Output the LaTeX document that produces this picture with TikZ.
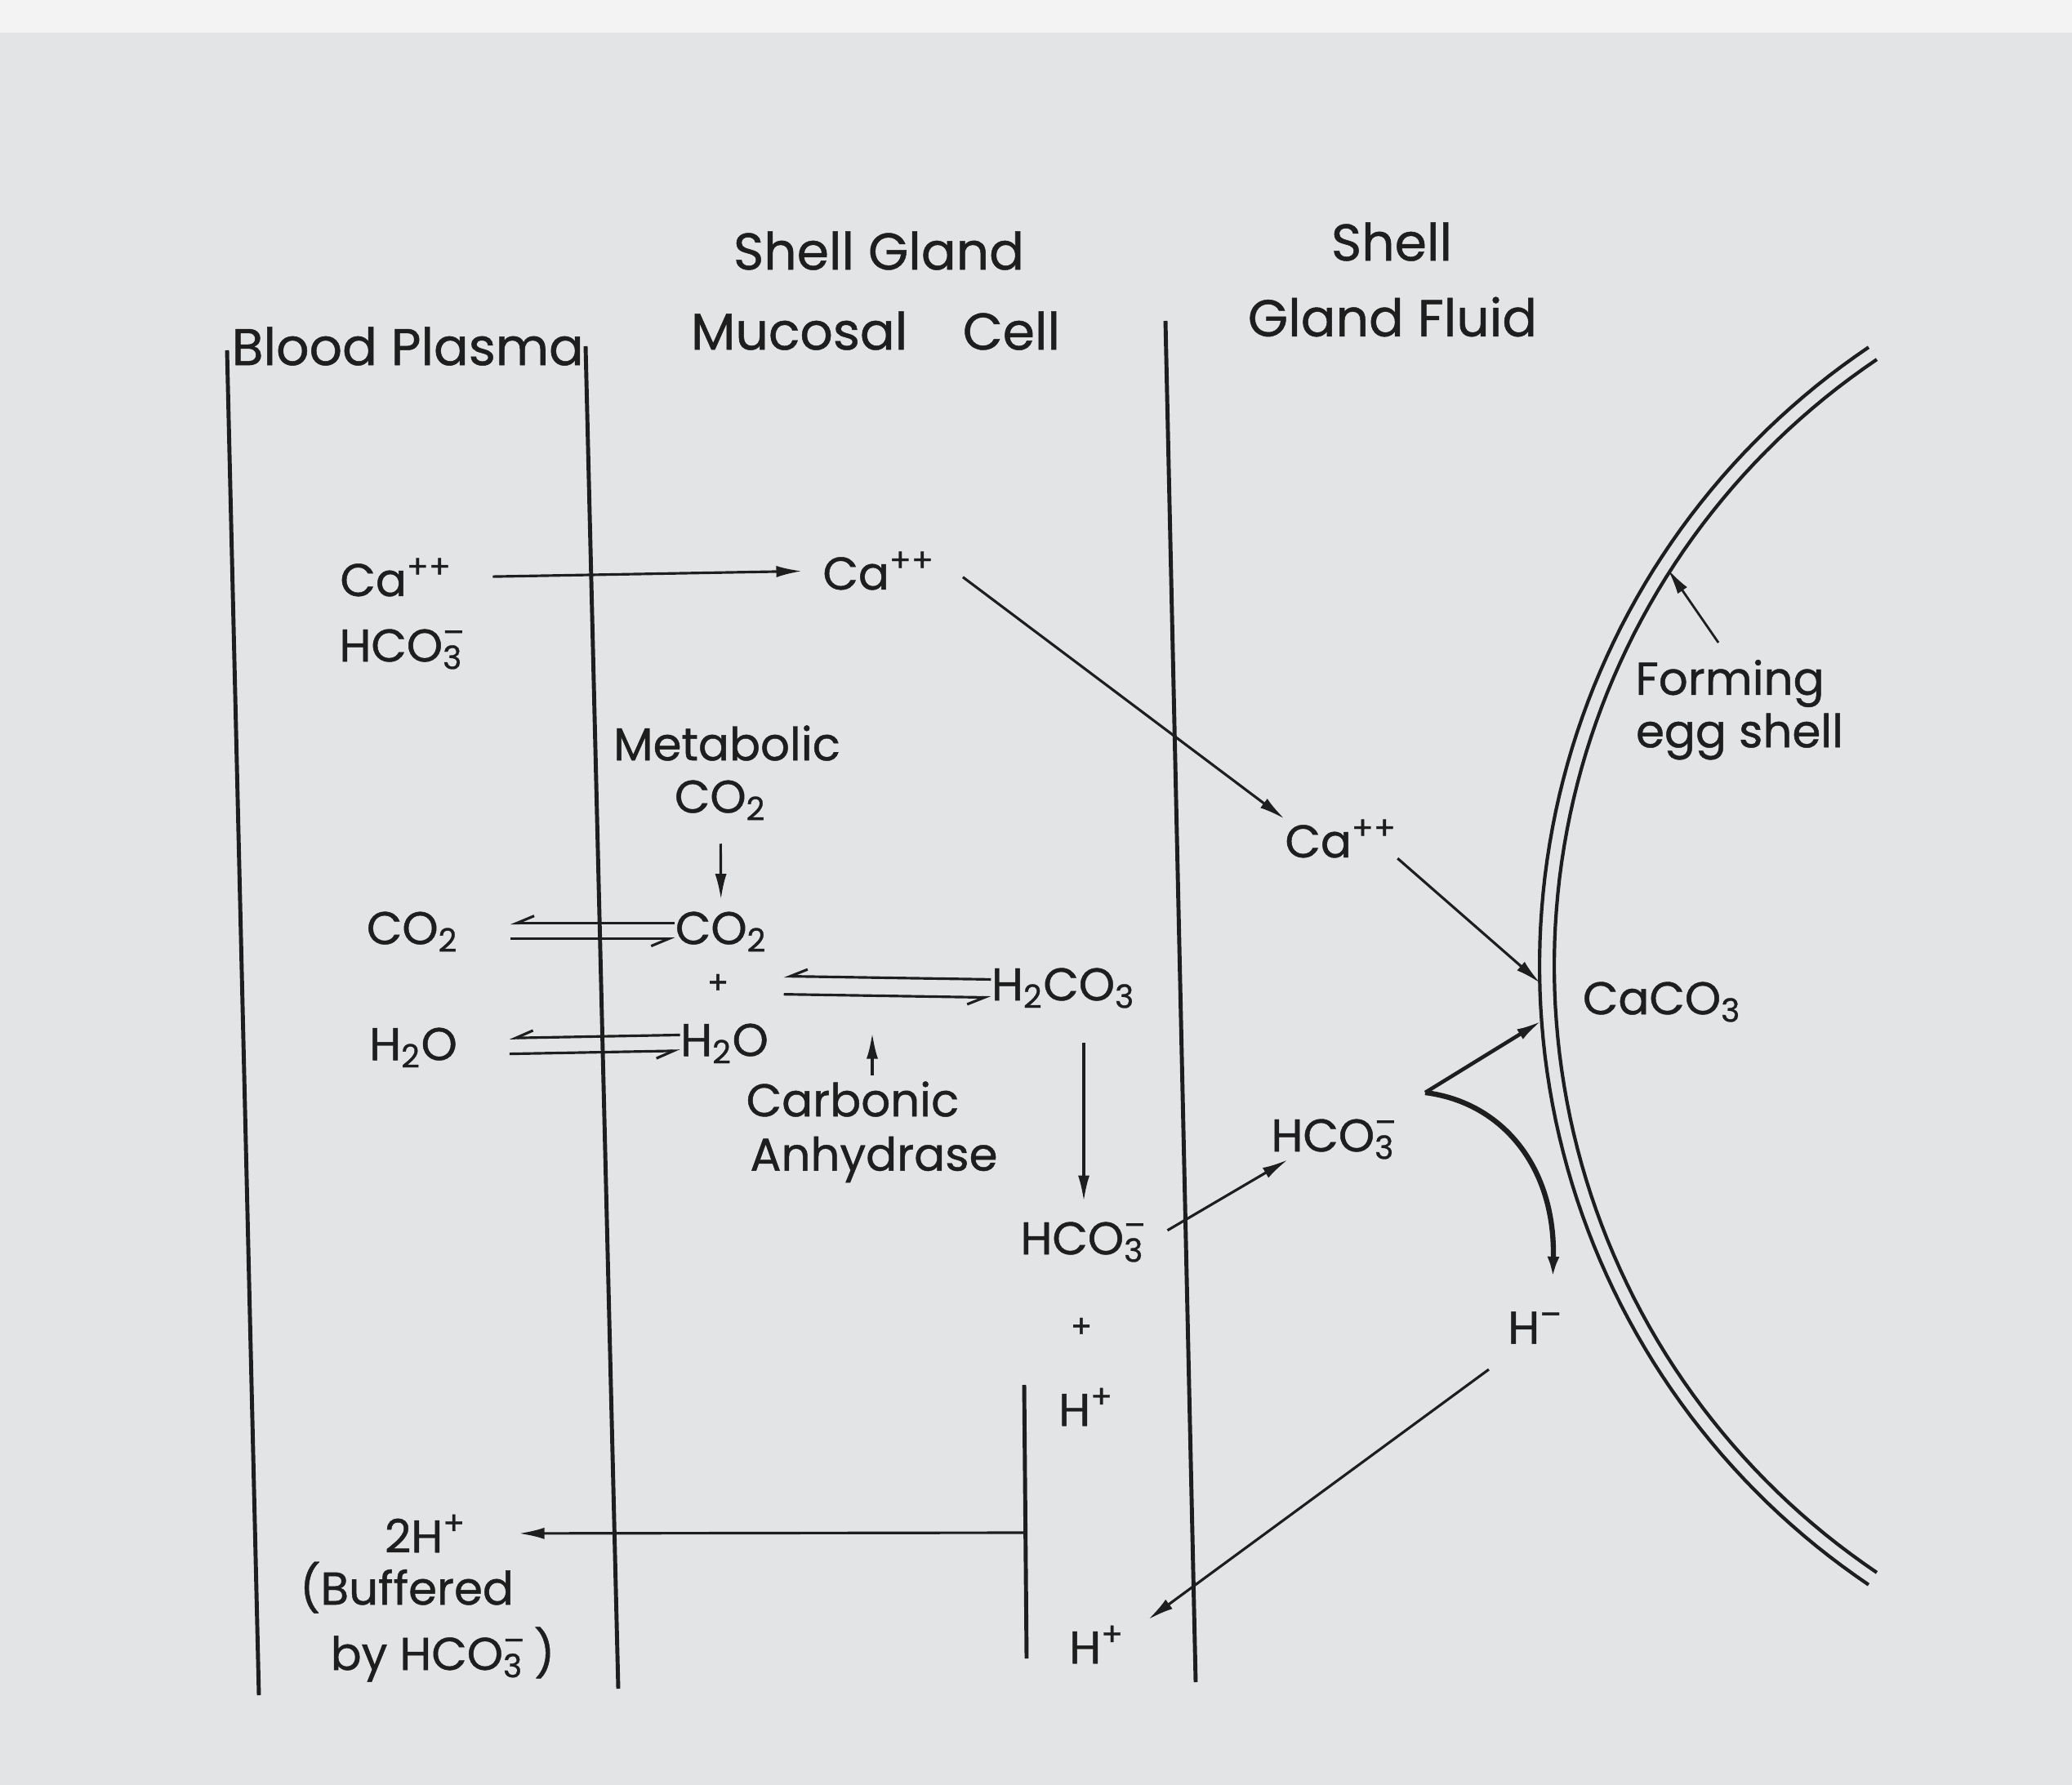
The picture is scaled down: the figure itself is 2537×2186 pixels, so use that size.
\documentclass[tikz,border=0pt]{standalone}
\usepackage{fontspec}
\setmainfont{Poppins}[UprightFeatures={FakeBold=0.8}]
\usetikzlibrary{positioning,arrows.meta}
\definecolor{paper}{RGB}{227,228,230}
\definecolor{paperedge}{RGB}{243,243,244}
\definecolor{ink}{RGB}{30,30,30}
\newcommand{\chsub}[1]{\textsubscript{#1}}
\newcommand{\chion}[2]{\rlap{\textsubscript{#1}}\textsuperscript{#2}}

\begin{document}
\begin{tikzpicture}[
        x=0.01cm, y=-0.01cm,
        head/.style={font=\fontsize{18}{21}\selectfont, text=ink, inner sep=0pt},
        chem/.style={font=\fontsize{16}{19}\selectfont, text=ink, inner sep=0pt},
        small/.style={font=\fontsize{11}{13}\selectfont, text=ink, inner sep=0pt},
        wall/.style={draw=ink, line width=1.4pt},
        shellline/.style={draw=ink, line width=1.2pt},
        flow/.style={draw=ink, line width=0.9pt, -{Latex[length=9pt,width=4pt]}},
        eq/.style={draw=ink, line width=0.9pt, -{Straight Barb[harpoon,swap,length=6pt,width=5pt]}}
    ]
    \fill[paper] (0,0) rectangle (2537,2186);
    \fill[paperedge] (0,0) rectangle (2537,40);
    \useasboundingbox (0,0) rectangle (2537,2186);

    % compartment walls
    \draw[wall] (278,429) -- (317,2076);
    \draw[wall] (717,424) -- (757,2068);
    \draw[wall] (1427,393) -- (1464,2060);
    \draw[wall] (1254,1696) -- (1257,2031);

    % forming egg shell
    \draw[shellline] plot[domain=124:236, samples=90] ({2799+914*cos(\x)}, {1183+914*sin(\x)});
    \draw[shellline] plot[domain=124:236, samples=90] ({2799+896*cos(\x)}, {1183+896*sin(\x)});

    % headings
    \node[head, anchor=west] (plasma) at (283,424) {Blood Plasma};
    \node[head] (gland) at (1076,307) {Shell Gland};
    \node[head] (mucosal) at (1072,405) {Mucosal\hspace{0.8em} Cell};
    \node[head] (shell) at (1704,296) {Shell};
    \node[head] (fluid) at (1705,388) {Gland Fluid};

    % species
    \node[chem] (caL) at (485,707) {Ca\textsuperscript{++}};
    \node[chem] (hcoL) at (493,795) {HCO\chion{3}{--}};
    \node[chem] (caM) at (1076,699) {Ca\textsuperscript{++}};
    \node[chem] (caR) at (1642,1027) {Ca\textsuperscript{++}};
    \node[chem] (metab) at (890,910) {Metabolic};
    \node[chem] (co2met) at (882,980) {CO\chsub{2}};
    \node[chem] (co2L) at (505,1141) {CO\chsub{2}};
    \node[chem] (co2M) at (883,1141) {CO\chsub{2}};
    \node[small] (plusA) at (879,1205) {+};
    \node[chem] (h2oL) at (506,1283) {H\chsub{2}O};
    \node[chem] (h2oM) at (887,1278) {H\chsub{2}O};
    \node[chem] (h2co3) at (1302,1210) {H\chsub{2}CO\chsub{3}};
    \node[chem] (carbonic) at (1044,1346) {Carbonic};
    \node[chem] (anhyd) at (1070,1420) {Anhydrase};
    \node[chem] (hcoM) at (1327,1521) {HCO\chion{3}{--}};
    \node[small] (plusB) at (1324,1626) {+};
    \node[chem] (hpM) at (1330,1723) {H\textsuperscript{+}};
    \node[chem] (hcoR) at (1634,1395) {HCO\chion{3}{--}};
    \node[chem] (caco3) at (2035,1227) {CaCO\chsub{3}};
    \node[chem] (hminus) at (1880,1626) {H\textsuperscript{--}};
    \node[chem] (hpB) at (1343,2014) {H\textsuperscript{+}};
    \node[chem] (twoH) at (521,1878) {2H\textsuperscript{+}};
    \node[chem] (buffered) at (498,1944) {(Buffered};
    \node[chem] (byhco) at (542,2026) {by HCO\chion{3}{--}\,)};
    \node[chem] (forming) at (2118,837) {Forming};
    \node[chem] (eggshell) at (2130,902) {egg shell};

    \coordinate (shellCa) at (1886,1204);
    \coordinate (shellHco) at (1888,1250);
    \coordinate (shellTip) at (2042,697);
    \coordinate (vtx) at (1745,1338);
    \coordinate (tee) at (1255,1877);
    \coordinate (cat) at (1068,1265);

    % transport and reactions
    \draw[flow, shorten <=14pt, shorten >=7pt] (caL.east) -- (caM.west);
    \draw[flow, shorten <=12pt] ([yshift=5pt]caM.east) -- (caR.north west);
    \draw[flow] (caR.south east) -- (shellCa);
    \draw[flow, shorten <=8pt, shorten >=4pt] (co2met) -- (co2M);
    \draw[eq, shorten >=18pt] ([yshift=3pt]co2M.west) -- ([yshift=3pt]co2L.east);
    \draw[eq, shorten <=18pt] ([yshift=-2.5pt]co2L.east) -- ([yshift=-2.5pt]co2M.west);
    \draw[eq, shorten >=18pt] ([yshift=3pt]h2oM.west) -- ([yshift=3pt]h2oL.east);
    \draw[eq, shorten <=18pt] ([yshift=-2.5pt]h2oL.east) -- ([yshift=-2.5pt]h2oM.west);
    \draw[eq, shorten >=19pt] ([yshift=3pt]h2co3.west) -- ([yshift=3pt]plusA.east);
    \draw[eq, shorten <=19pt] ([yshift=-3.3pt]plusA.east) -- ([yshift=-3.3pt]h2co3.west);
    \draw[flow, shorten <=2pt] (carbonic.north -| cat) -- (cat);
    \draw[flow, shorten <=12pt, shorten >=7pt] (hcoM.north |- h2co3.south) -- (hcoM.north);
    \draw[flow, shorten <=8pt] (hcoM.east) -- ([xshift=6pt]hcoR.south west);
    \draw[flow, line width=1.3pt] (vtx) -- (shellHco);
    \draw[flow, line width=1.8pt] (vtx) .. controls (1840,1350) and (1905,1430) .. ([xshift=6pt,yshift=10pt]hminus.north);
    \draw[flow, shorten <=8pt, shorten >=10pt] ([yshift=-4pt]hminus.south west) -- ([yshift=-4pt]hpB.north east);
    \draw[flow, shorten >=18pt] (tee) -- (twoH.east);
    \draw[flow, line width=0.8pt, shorten <=7pt] (forming.north) -- (shellTip);
\end{tikzpicture}
\end{document}
